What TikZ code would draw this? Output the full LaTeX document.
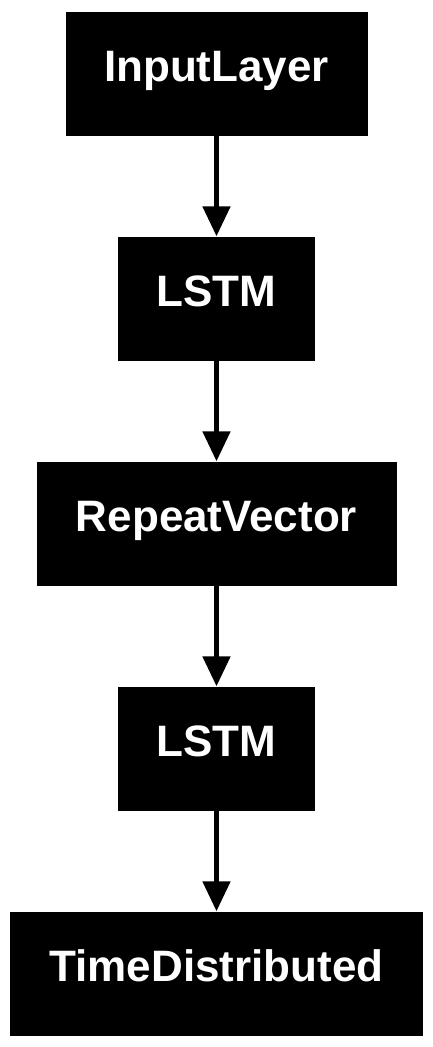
\documentclass[tikz,border=0pt]{standalone}
\usepackage{fontspec}
\setmainfont{Liberation Sans}
\usetikzlibrary{arrows.meta}
\begin{document}
\begin{tikzpicture}[x=1pt,y=-1pt,
  layer/.style={fill=black,text=white,inner sep=0pt,minimum height=124pt,
    text height=40pt,text depth=25pt,
    font=\fontsize{44}{50}\selectfont\bfseries},
  conn/.style={line width=5pt,-{Triangle[length=30pt,width=27pt]}}]
\useasboundingbox (0,0) rectangle (433,1047);
\node[layer,minimum width=302pt] (n1) at (216.5,73.5) {InputLayer};
\node[layer,minimum width=197pt] (n2) at (216.5,298.5) {LSTM};
\node[layer,minimum width=360pt] (n3) at (216.5,523.5) {RepeatVector};
\node[layer,minimum width=197pt] (n4) at (216.5,748.5) {LSTM};
\node[layer,minimum width=413pt] (n5) at (216.5,973.5) {TimeDistributed};
\draw[conn] (n1.south) -- (n2.north);
\draw[conn] (n2.south) -- (n3.north);
\draw[conn] (n3.south) -- (n4.north);
\draw[conn] (n4.south) -- (n5.north);
\end{tikzpicture}
\end{document}
